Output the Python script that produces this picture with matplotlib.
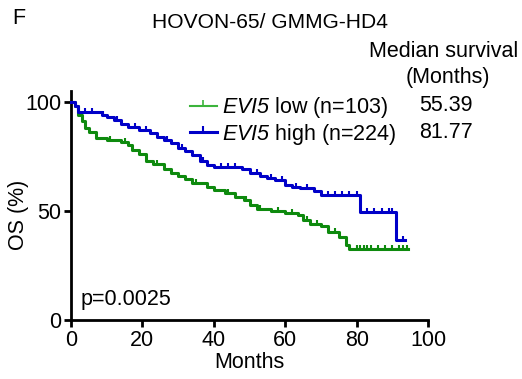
import matplotlib
matplotlib.use("Agg")
import matplotlib.pyplot as plt
from matplotlib.lines import Line2D

plt.rcParams["font.family"] = ["Liberation Sans", "DejaVu Sans"]
plt.rcParams["mathtext.fontset"] = "custom"
plt.rcParams["mathtext.rm"] = "Liberation Sans:italic"
plt.rcParams["mathtext.it"] = "Liberation Sans:italic"

# Kaplan-Meier step curves (months, OS %)
low_t = [0, 1, 2, 3, 4, 5, 7, 10, 14, 16, 17, 19, 21, 23, 26, 28, 30, 32, 34, 38, 40,
         43, 46, 48.5, 50, 52, 56, 60, 63.5, 65, 67, 70, 72, 75, 77, 78, 94.5]
low_s = [100, 98, 94, 91, 88, 86, 83.5, 82.5, 81.6, 80, 78, 76, 73, 71.5, 69, 67.5, 66, 64.5,
         63, 61, 59.6, 58, 56.5, 55, 52.5, 51, 50, 49, 48, 46, 44, 43, 40.5, 38, 34.5, 32.6, 32.6]
low_cens = [11, 15, 24, 35, 44, 49, 53, 58, 62, 66, 69, 74, 80, 81, 82, 83, 84, 86, 88, 90, 92, 93, 94]

high_t = [0, 1, 2, 8.7, 10, 12, 14, 16, 19, 22, 24, 26, 28, 30, 32, 34, 36, 38, 40, 48, 50,
          53, 55, 57, 60, 62, 64, 68, 70, 81, 91, 93.5]
high_s = [100, 98, 95.5, 94, 93, 91.5, 90, 88.5, 87, 85.5, 84, 82.5, 81, 79, 77.5, 75.5, 73,
          71, 70, 69, 67.5, 66, 65, 64, 62, 61, 60.5, 59, 57.3, 49.5, 36.7, 36.7]
high_cens = [4, 6, 9, 13, 18, 21, 27, 31, 37, 42, 44, 46, 52, 56, 59, 63, 66, 72, 74, 76, 78,
             80, 83, 85, 87, 89, 90, 93]

labels = ["low (n=103)", "high (n=224)"]
medians = ["55.39", "81.77"]
GREEN = "#0e8a0e"
GREEN_LEG = "#3cb43c"
BLUE = "#0000c8"
FS = 15.5
UP_TICK = [(0, 0), (0, 1)]  # censoring mark: short tick rising from the curve


def level_at(ts, ss, x):
    val = ss[0]
    for t, s in zip(ts, ss):
        if t <= x:
            val = s
    return val


fig = plt.figure(figsize=(5.22, 3.79), dpi=100)
ax = fig.add_axes([0.136, 0.156, 0.684, 0.604])

ax.step(low_t, low_s, where="post", color=GREEN, lw=2.2, zorder=3)
ax.plot(low_cens, [level_at(low_t, low_s, c) for c in low_cens], ls="none",
        marker=UP_TICK, ms=6, mew=1.5, color=GREEN, zorder=3)
ax.step(high_t, high_s, where="post", color=BLUE, lw=2.2, zorder=4)
ax.plot(high_cens, [level_at(high_t, high_s, c) for c in high_cens], ls="none",
        marker=UP_TICK, ms=6, mew=1.5, color=BLUE, zorder=4)

ax.set_xlim(0, 100)
ax.set_ylim(0, 105)
ax.set_xticks([0, 20, 40, 60, 80, 100])
ax.set_yticks([0, 50, 100])
for side in ("top", "right"):
    ax.spines[side].set_visible(False)
for side in ("left", "bottom"):
    ax.spines[side].set_linewidth(2)
ax.spines["bottom"].set_bounds(0, 100)
ax.tick_params(width=2, length=5, labelsize=FS, color="black", pad=2)
for ln in ax.lines:
    ln.set_clip_on(False)
ax.set_xlabel("Months", fontsize=FS, labelpad=1)
ax.set_ylabel("OS (%)", fontsize=FS)
ax.yaxis.set_label_coords(-0.118, 0.46)

ax.text(2.8, 9.2, "p=0.0025", fontsize=FS, ha="left", va="center")

handles = [Line2D([], [], color=GREEN_LEG, lw=1.5, marker=UP_TICK, ms=8, mew=1.2),
           Line2D([], [], color=BLUE, lw=2.2, marker=UP_TICK, ms=8, mew=1.5)]
leg = fig.legend(handles, [r"$EVI5$ " + l for l in labels],
                 loc="upper left", bbox_to_anchor=(0.364, 0.749), frameon=False,
                 fontsize=FS, handlelength=1.25, handletextpad=0.23, labelspacing=0.08,
                 borderpad=0, borderaxespad=0)

fig.text(0.023, 0.952, "F", fontsize=FS, ha="left", va="center")
fig.text(0.517, 0.940, "HOVON-65/ GMMG-HD4", fontsize=15.1, ha="center", va="center")
fig.text(0.992, 0.865, "Median survival", fontsize=FS, ha="right", va="center")
fig.text(0.939, 0.796, "(Months)", fontsize=FS, ha="right", va="center")
for i, m in enumerate(medians):
    fig.text(0.906, 0.722 - i * 0.071, m, fontsize=FS, ha="right", va="center")

fig.savefig("out.png", dpi=100)
